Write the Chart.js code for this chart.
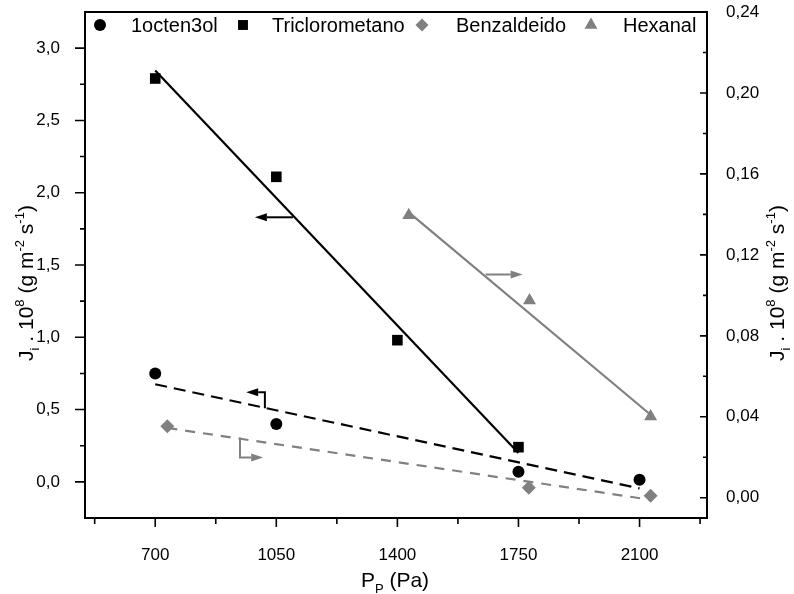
<!DOCTYPE html>
<html lang="pt">
<head>
<meta charset="UTF-8">
<title>Fluxo de permeação em função da pressão</title>
<script src="https://cdn.jsdelivr.net/npm/chart.js"></script>
<style>
  html, body { margin: 0; padding: 0; background: #fff; }
  #wrap { width: 794px; height: 594px; }
</style>
</head>
<body>
<div id="wrap"><canvas id="fluxChart" width="794" height="594"></canvas></div>
<script>
// measured points, P_P in Pa, J_i.10^8 in g m-2 s-1
const octenolP = [700, 1050, 1750, 2100];
const octenolJ = [0.75, 0.40, 0.07, 0.015];
const trichloroP = [700, 1050, 1400, 1750];
const trichloroJ = [2.79, 2.11, 0.98, 0.24];
const benzP = [735, 1780, 2132];
const benzJ = [0.0353, 0.005, 0.001];
const hexanalP = [1433, 1782, 2132];
const hexanalJ = [0.1396, 0.0974, 0.0402];

// fitted straight lines (end points)
const octenolFitP = [700, 2100];
const octenolFitJ = [0.675, -0.045];
const trichloroFitP = [700, 1750];
const trichloroFitJ = [2.845, 0.2];
const benzFitP = [735, 2132];
const benzFitJ = [0.0345, -0.001];
const hexanalFitP = [1433, 2132];
const hexanalFitJ = [0.141, 0.041];

// axis ticks
const pTicks = [700, 1050, 1400, 1750, 2100];
const pMinor = [525, 875, 1225, 1575, 1925, 2275];
const leftTicks = [0, 0.5, 1.0, 1.5, 2.0, 2.5, 3.0];
const leftMinor = [0.25, 0.75, 1.25, 1.75, 2.25, 2.75];
const rightTicks = [0, 0.04, 0.08, 0.12, 0.16, 0.20, 0.24];
const rightMinor = [0.02, 0.06, 0.10, 0.14, 0.18, 0.22];

const GRAY = '#808080';
const FONT = "'Liberation Sans', Arial, sans-serif";

const pts = (xs, ys) => xs.map((x, i) => ({ x: x, y: ys[i] }));

// arrows telling which axis each line belongs to (data units)
const arrows = [
  { axis: 'yL', color: '#000', path: [[1098, 1.83], [988, 1.83]] },
  { axis: 'yR', color: GRAY, path: [[1655, 0.1103], [1762, 0.1103]] },
  { axis: 'yL', color: '#000', path: [[1017, 0.51], [1017, 0.62], [963, 0.62]] },
  { axis: 'yR', color: GRAY, path: [[945, 0.0298], [945, 0.0199], [1012, 0.0199]] }
];

const legendItems = [
  { label: '1octen3ol', style: 'circle', r: 6, color: '#000', mx: 100, tx: 131 },
  { label: 'Triclorometano', style: 'rect', r: 7, color: '#000', mx: 243, tx: 272 },
  { label: 'Benzaldeido', style: 'rectRot', r: 6.5, color: GRAY, mx: 422, tx: 456 },
  { label: 'Hexanal', style: 'triangle', r: 7.5, color: GRAY, mx: 591, tx: 623 }
];

function drawArrow(ctx, p, color) {
  const n = p.length;
  const [x1, y1] = p[n - 2], [x2, y2] = p[n - 1];
  const ang = Math.atan2(y2 - y1, x2 - x1);
  const hl = 12, hw = 4;
  const bx = x2 - hl * Math.cos(ang), by = y2 - hl * Math.sin(ang);
  ctx.save();
  ctx.strokeStyle = color;
  ctx.fillStyle = color;
  ctx.lineWidth = 2;
  ctx.beginPath();
  ctx.moveTo(p[0][0], p[0][1]);
  for (let i = 1; i < n - 1; i++) ctx.lineTo(p[i][0], p[i][1]);
  ctx.lineTo(bx, by);
  ctx.stroke();
  ctx.beginPath();
  ctx.moveTo(x2, y2);
  ctx.lineTo(bx - hw * Math.sin(ang), by + hw * Math.cos(ang));
  ctx.lineTo(bx + hw * Math.sin(ang), by - hw * Math.cos(ang));
  ctx.closePath();
  ctx.fill();
  ctx.restore();
}

// text with sub/superscripts, centred on (0,0) of the current transform
function drawRich(ctx, segs, size) {
  const measure = s => {
    ctx.font = (s.k ? size * 0.62 : size) + 'px ' + FONT;
    return ctx.measureText(s.t).width;
  };
  const total = segs.reduce((w, s) => w + measure(s), 0);
  let x = -total / 2;
  const base = size * 0.36;
  segs.forEach(s => {
    const w = measure(s);
    let dy = 0;
    if (s.k === 'sub') dy = size * 0.3;
    if (s.k === 'sup') dy = -size * 0.42;
    ctx.fillText(s.t, x, base + dy);
    x += w;
  });
}

const fluxTitle = [
  { t: 'J' }, { t: 'i', k: 'sub' }, { t: ' . 10' }, { t: '8', k: 'sup' },
  { t: ' (g m' }, { t: '-2', k: 'sup' }, { t: ' s' }, { t: '-1', k: 'sup' }, { t: ')' }
];
const pressTitle = [{ t: 'P' }, { t: 'P', k: 'sub' }, { t: ' (Pa)' }];

const decorPlugin = {
  id: 'decor',
  afterDatasetsDraw(chart) {
    const { ctx, scales } = chart;
    arrows.forEach(a => {
      const p = a.path.map(([x, y]) => [scales.x.getPixelForValue(x), scales[a.axis].getPixelForValue(y)]);
      drawArrow(ctx, p, a.color);
    });
  },
  afterDraw(chart) {
    const { ctx, chartArea: a, scales } = chart;
    ctx.save();
    ctx.strokeStyle = '#000';
    ctx.lineWidth = 2;
    ctx.strokeRect(a.left, a.top, a.right - a.left, a.bottom - a.top);

    ctx.lineWidth = 1.6;
    ctx.beginPath();
    const tick = (x1, y1, x2, y2) => { ctx.moveTo(x1, y1); ctx.lineTo(x2, y2); };
    pTicks.forEach(v => { const x = scales.x.getPixelForValue(v); tick(x, a.bottom, x, a.bottom + 9); });
    pMinor.forEach(v => { const x = scales.x.getPixelForValue(v); tick(x, a.bottom, x, a.bottom + 6); });
    leftTicks.forEach(v => { const y = scales.yL.getPixelForValue(v); tick(a.left - 10, y, a.left, y); });
    leftMinor.forEach(v => { const y = scales.yL.getPixelForValue(v); tick(a.left - 5, y, a.left, y); });
    rightTicks.forEach(v => { const y = scales.yR.getPixelForValue(v); tick(a.right - 7, y, a.right, y); });
    rightMinor.forEach(v => { const y = scales.yR.getPixelForValue(v); tick(a.right - 4, y, a.right, y); });
    ctx.stroke();

    // legend inside the plot
    ctx.textBaseline = 'alphabetic';
    ctx.textAlign = 'left';
    legendItems.forEach(it => {
      ctx.fillStyle = it.color;
      Chart.helpers.drawPoint(ctx, { pointStyle: it.style, radius: it.r, borderWidth: 0 }, it.mx, 25);
      ctx.fillStyle = '#000';
      ctx.font = '20px ' + FONT;
      ctx.fillText(it.label, it.tx, 32);
    });

    // axis titles
    ctx.fillStyle = '#000';
    ctx.save();
    ctx.translate(395, 579);
    drawRich(ctx, pressTitle, 21);
    ctx.restore();
    [25, 776].forEach(cx => {
      ctx.save();
      ctx.translate(cx, 283);
      ctx.rotate(-Math.PI / 2);
      drawRich(ctx, fluxTitle, 21);
      ctx.restore();
    });
    ctx.restore();
  }
};

const tickFont = { family: FONT, size: 17 };
const noPadY = s => { s.paddingTop = 0; s.paddingBottom = 0; };

new Chart(document.getElementById('fluxChart'), {
  type: 'scatter',
  data: {
    datasets: [
      { label: '1octen3ol', data: pts(octenolP, octenolJ), yAxisID: 'yL',
        pointStyle: 'circle', pointRadius: 6, backgroundColor: '#000', borderWidth: 0 },
      { label: 'Triclorometano', data: pts(trichloroP, trichloroJ), yAxisID: 'yL',
        pointStyle: 'rect', pointRadius: 7.5, backgroundColor: '#000', borderWidth: 0 },
      { label: 'Benzaldeido', data: pts(benzP, benzJ), yAxisID: 'yR',
        pointStyle: 'rectRot', pointRadius: 7, backgroundColor: GRAY, borderWidth: 0 },
      { label: 'Hexanal', data: pts(hexanalP, hexanalJ), yAxisID: 'yR',
        pointStyle: 'triangle', pointRadius: 7.5, backgroundColor: GRAY, borderWidth: 0 },
      { data: pts(octenolFitP, octenolFitJ), yAxisID: 'yL', showLine: true, pointRadius: 0,
        borderColor: '#000', borderWidth: 2.2, borderDash: [12, 7] },
      { data: pts(trichloroFitP, trichloroFitJ), yAxisID: 'yL', showLine: true, pointRadius: 0,
        borderColor: '#000', borderWidth: 2.2 },
      { data: pts(benzFitP, benzFitJ), yAxisID: 'yR', showLine: true, pointRadius: 0,
        borderColor: GRAY, borderWidth: 2.2, borderDash: [10, 8] },
      { data: pts(hexanalFitP, hexanalFitJ), yAxisID: 'yR', showLine: true, pointRadius: 0,
        borderColor: GRAY, borderWidth: 2.2 }
    ]
  },
  options: {
    responsive: false,
    animation: false,
    devicePixelRatio: 1,
    layout: { padding: { top: 12, left: 0, right: 0, bottom: 0 } },
    plugins: { legend: { display: false }, tooltip: { enabled: false } },
    scales: {
      x: {
        type: 'linear', position: 'bottom', min: 497, max: 2295,
        afterBuildTicks: s => { s.ticks = pTicks.map(v => ({ value: v })); },
        afterFit: s => { s.height = 76; s.paddingLeft = 0; s.paddingRight = 0; },
        grid: { display: false }, border: { display: false },
        ticks: { font: tickFont, color: '#000', padding: 19, maxRotation: 0, autoSkip: false,
                 callback: v => String(v) }
      },
      yL: {
        type: 'linear', position: 'left', min: -0.25, max: 3.25,
        afterBuildTicks: s => { s.ticks = leftTicks.map(v => ({ value: v })); },
        afterFit: s => { s.width = 85; noPadY(s); },
        grid: { display: false }, border: { display: false },
        ticks: { font: tickFont, color: '#000', padding: 17,
                 callback: v => v.toFixed(1).replace('.', ',') }
      },
      yR: {
        type: 'linear', position: 'right', min: -0.01, max: 0.24,
        afterBuildTicks: s => { s.ticks = rightTicks.map(v => ({ value: v })); },
        afterFit: s => { s.width = 87; noPadY(s); },
        grid: { display: false }, border: { display: false },
        ticks: { font: tickFont, color: '#000', padding: 11,
                 callback: v => v.toFixed(2).replace('.', ',') }
      }
    }
  },
  plugins: [decorPlugin]
});
</script>
</body>
</html>
